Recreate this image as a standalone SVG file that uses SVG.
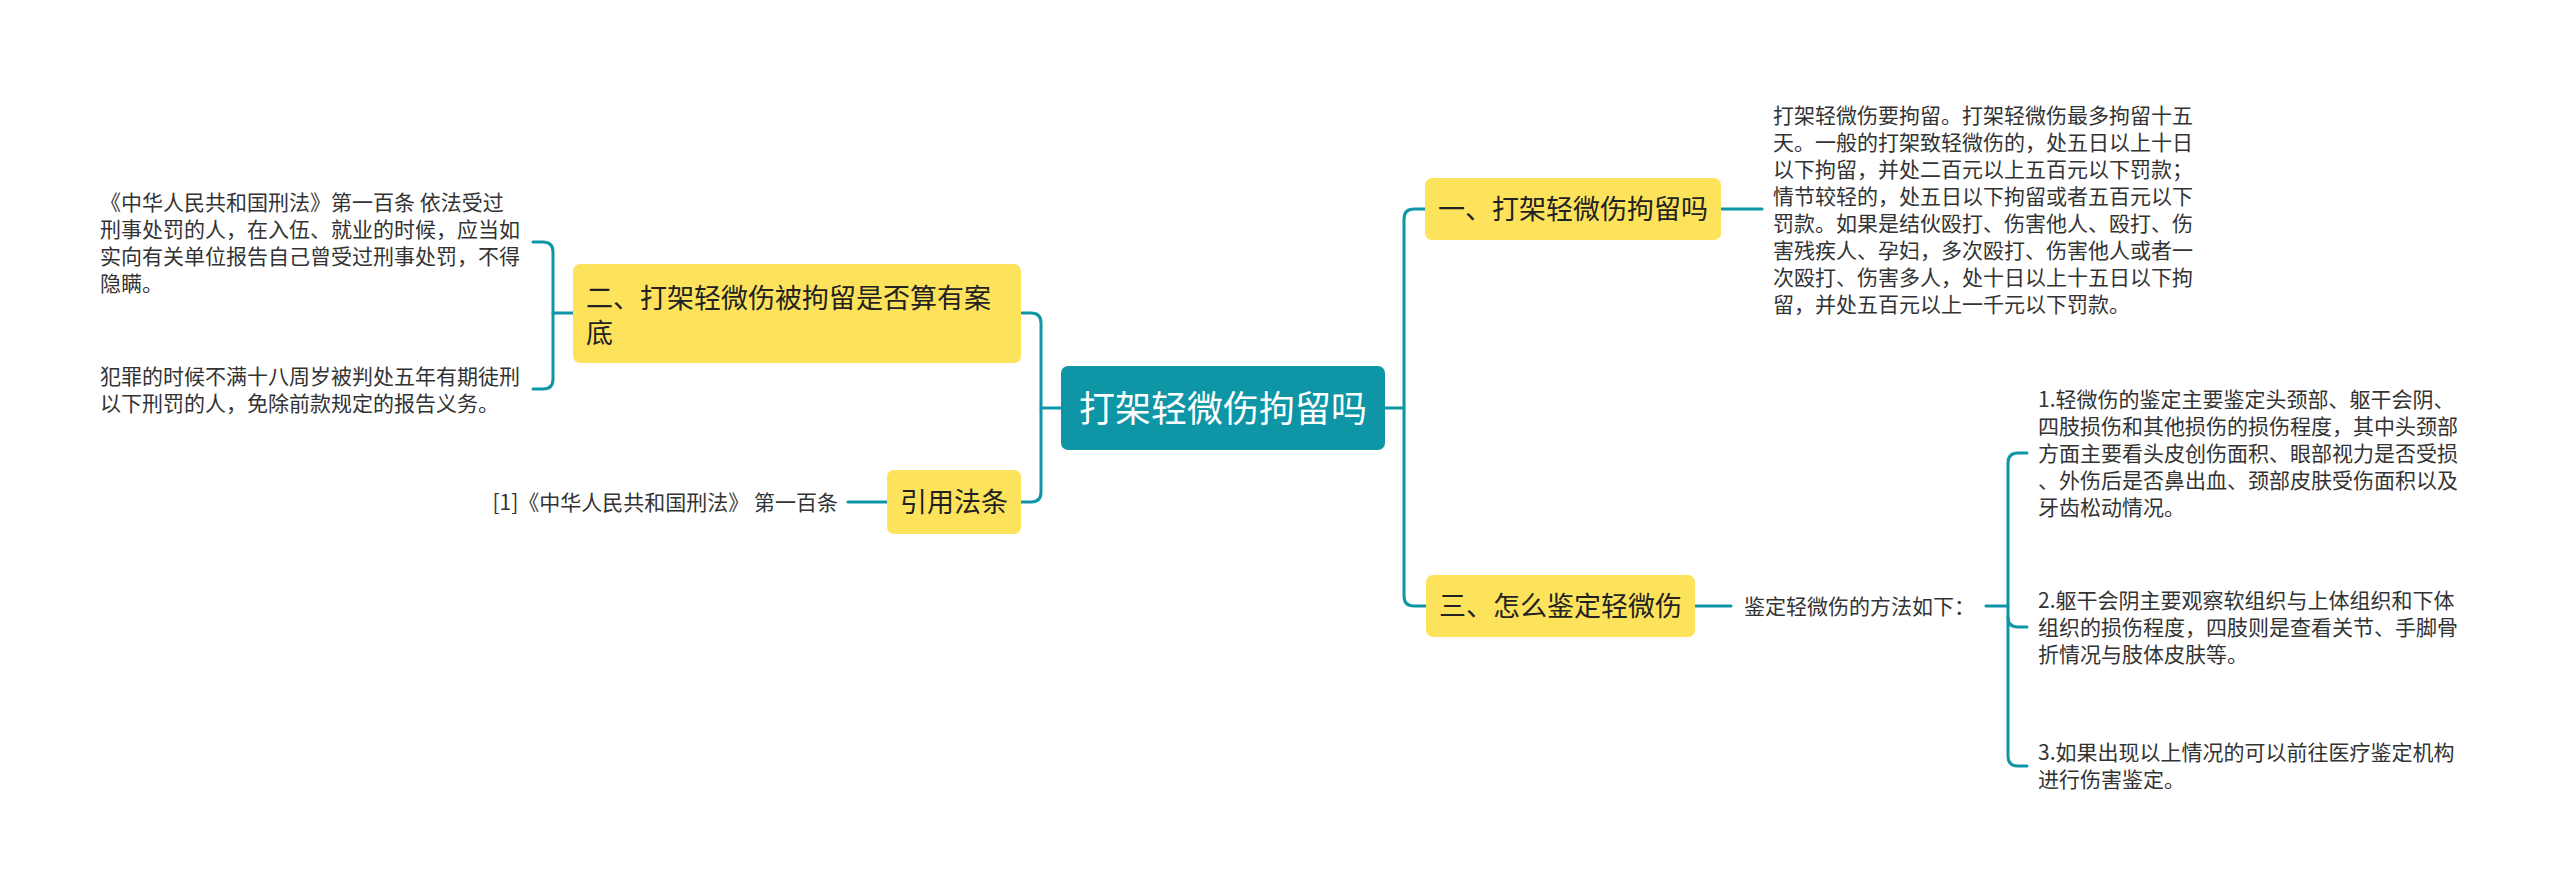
<svg xmlns="http://www.w3.org/2000/svg" width="2560" height="889" viewBox="0 0 2560 889">
<style>
.bg{fill:#ffffff}
.conn{fill:none;stroke:#0f96a6;stroke-width:3;stroke-linecap:round}
.root{fill:#0f96a6}
.sub{fill:#fde35c}
.rt{font-family:"Noto Sans CJK SC","Noto Sans",sans-serif;font-size:36px;fill:#ffffff}
.nt{font-family:"Noto Sans CJK SC","Noto Sans",sans-serif;font-size:27px;fill:#222222}
.tx{font-family:"Noto Sans CJK SC","Noto Sans",sans-serif;font-size:21px;fill:#333333}
</style>
<rect class="bg" x="0" y="0" width="2560" height="889"/>
<g id="connectors">
<path class="conn" d="M1385,408 H1404"/>
<path class="conn" d="M1425,209 H1414 Q1404,209 1404,219 V596 Q1404,606 1414,606 H1426"/>
<path class="conn" d="M1721,209 H1762"/>
<path class="conn" d="M1695,606 H1731"/>
<path class="conn" d="M1986,606 H2008"/>
<path class="conn" d="M2027,453 H2018 Q2008,453 2008,463 V756 Q2008,766 2018,766 H2027"/>
<path class="conn" d="M2008,617 Q2008,627 2018,627 H2027"/>
<path class="conn" d="M1061,408 H1041"/>
<path class="conn" d="M1021,313 H1031 Q1041,313 1041,323 V492 Q1041,502 1031,502 H1021"/>
<path class="conn" d="M848,502 H887"/>
<path class="conn" d="M573,313 H553"/>
<path class="conn" d="M533,242 H543 Q553,242 553,252 V379 Q553,389 543,389 H533"/>
</g>
<g id="root">
<rect class="root" x="1061" y="366" width="324" height="84" rx="7"/>
<text class="rt" x="1079" y="422">打架轻微伤拘留吗</text>
</g>
<g id="n1">
<rect class="sub" x="1425" y="178" width="296" height="62" rx="7"/>
<text class="nt" x="1438" y="219">一、打架轻微伤拘留吗</text>
</g>
<g id="n1-detail">
<text class="tx" x="1773" y="123">打架轻微伤要拘留。打架轻微伤最多拘留十五</text>
<text class="tx" x="1773" y="150">天。一般的打架致轻微伤的，处五日以上十日</text>
<text class="tx" x="1773" y="177">以下拘留，并处二百元以上五百元以下罚款；</text>
<text class="tx" x="1773" y="204">情节较轻的，处五日以下拘留或者五百元以下</text>
<text class="tx" x="1773" y="231">罚款。如果是结伙殴打、伤害他人、殴打、伤</text>
<text class="tx" x="1773" y="258">害残疾人、孕妇，多次殴打、伤害他人或者一</text>
<text class="tx" x="1773" y="285">次殴打、伤害多人，处十日以上十五日以下拘</text>
<text class="tx" x="1773" y="312">留，并处五百元以上一千元以下罚款。</text>
</g>
<g id="n3">
<rect class="sub" x="1426" y="575" width="269" height="62" rx="7"/>
<text class="nt" x="1439" y="616">三、怎么鉴定轻微伤</text>
</g>
<g id="n3-label">
<text class="tx" x="1744" y="614">鉴定轻微伤的方法如下：</text>
</g>
<g id="n3-item1">
<text class="tx" x="2038" y="407">1.轻微伤的鉴定主要鉴定头颈部、躯干会阴、</text>
<text class="tx" x="2038" y="434">四肢损伤和其他损伤的损伤程度，其中头颈部</text>
<text class="tx" x="2038" y="461">方面主要看头皮创伤面积、眼部视力是否受损</text>
<text class="tx" x="2038" y="488">、外伤后是否鼻出血、颈部皮肤受伤面积以及</text>
<text class="tx" x="2038" y="515">牙齿松动情况。</text>
</g>
<g id="n3-item2">
<text class="tx" x="2038" y="608">2.躯干会阴主要观察软组织与上体组织和下体</text>
<text class="tx" x="2038" y="635">组织的损伤程度，四肢则是查看关节、手脚骨</text>
<text class="tx" x="2038" y="662">折情况与肢体皮肤等。</text>
</g>
<g id="n3-item3">
<text class="tx" x="2038" y="760">3.如果出现以上情况的可以前往医疗鉴定机构</text>
<text class="tx" x="2038" y="787">进行伤害鉴定。</text>
</g>
<g id="n2">
<rect class="sub" x="573" y="264" width="448" height="99" rx="7"/>
<text class="nt" x="586" y="308">二、打架轻微伤被拘留是否算有案</text>
<text class="nt" x="586" y="343">底</text>
</g>
<g id="n2-item1">
<text class="tx" x="100" y="210">《中华人民共和国刑法》第一百条 依法受过</text>
<text class="tx" x="100" y="237">刑事处罚的人，在入伍、就业的时候，应当如</text>
<text class="tx" x="100" y="264">实向有关单位报告自己曾受过刑事处罚，不得</text>
<text class="tx" x="100" y="291">隐瞒。</text>
</g>
<g id="n2-item2">
<text class="tx" x="100" y="384">犯罪的时候不满十八周岁被判处五年有期徒刑</text>
<text class="tx" x="100" y="411">以下刑罚的人，免除前款规定的报告义务。</text>
</g>
<g id="n4">
<rect class="sub" x="887" y="470" width="134" height="64" rx="7"/>
<text class="nt" x="900" y="512">引用法条</text>
</g>
<g id="n4-item">
<text class="tx" x="838" y="510" text-anchor="end">[1]《中华人民共和国刑法》 第一百条</text>
</g>
</svg>
